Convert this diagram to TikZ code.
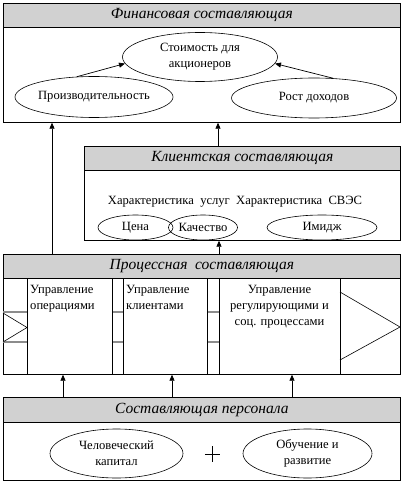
\documentclass[tikz,border=0pt]{standalone}
\usepackage{fontspec}
\setmainfont{Liberation Serif}
\usetikzlibrary{shapes.geometric,arrows.meta}
\begin{document}
\begin{tikzpicture}[x=1pt,y=-1pt,
  every node/.style={font=\fontsize{12.6}{16}\selectfont},
  frame/.style={draw,line width=0.7pt,anchor=north west,inner sep=0pt},
  hdr/.style={draw,line width=0.7pt,fill=black!18,anchor=north west,inner sep=0pt,font=\fontsize{15.5}{16}\selectfont\itshape},
  ell/.style={draw,line width=0.6pt,ellipse,inner sep=0pt,align=center},
  arr/.style={line width=0.7pt,-{Triangle[length=6pt,width=5pt]}},
  gline/.style={draw=black!45,line width=1.6pt},
  thin/.style={line width=0.6pt}]
\useasboundingbox (0,0) rectangle (402,486);
% ---------- Financial
\node[frame,minimum width=397pt,minimum height=119pt] (fin) at (3,3) {};
\node[hdr,minimum width=397pt,minimum height=24pt] (finh) at (3,3) {Финансовая составляющая};
\node[ell,minimum width=155pt,minimum height=49pt] (val) at (200,57) {Стоимость для\\акционеров};
\node[ell,minimum width=158pt,minimum height=41pt] (prod) at (94,97) {Производительность};
\node[ell,minimum width=165pt,minimum height=40pt] (grow) at (314,98) {Рост доходов};
\draw[arr] (prod.130) -- (val.185);
\draw[arr] (grow.46) -- (val.-5);
% ---------- Client
\node[frame,minimum width=316pt,minimum height=94pt] (cli) at (84,146) {};
\node[hdr,minimum width=316pt,minimum height=24pt] (clih) at (84,146) {Клиентская составляющая};
\node (chars) at (235,202) {Характеристика\ \ услуг\ \ Характеристика\ \ СВЭС};
\node[ell,minimum width=75pt,minimum height=25pt] (price) at (135.5,227.5) {Цена};
\node[ell,minimum width=66pt,minimum height=25pt] (qual) at (203,227.5) {Качество};
\node[ell,minimum width=110pt,minimum height=25pt] (image) at (322,227.5) {Имидж};
% ---------- Process
\node[frame,minimum width=397pt,minimum height=120pt] (proc) at (3,254) {};
\node[hdr,minimum width=397pt,minimum height=24pt] (proch) at (3,254) {Процессная\ \ составляющая};
\draw[gline] (3,312) -- (27,312) (3,342) -- (27,342)
  (112,312) -- (123,312) (112,342) -- (123,342)
  (207,312) -- (219,312) (207,342) -- (219,342);
\draw[thin] (3,313) -- (27,327.5) -- (3,342);
\draw[thin] (340,292) -- (400,327) -- (340,360);
\node[frame,minimum width=85pt,minimum height=96pt] (op) at (27,278) {};
\node[frame,minimum width=84pt,minimum height=96pt] (cl) at (123,278) {};
\node[frame,minimum width=121pt,minimum height=96pt] (reg) at (219,278) {};
\node[anchor=north west,align=left,inner sep=0pt] (opt) at (30,285) {Управление\\операциями};
\node[anchor=north west,align=left,inner sep=0pt] (clt) at (126,285) {Управление\\клиентами};
\node[anchor=north,align=center,inner sep=0pt] (regt) at (279.5,285) {Управление\\регулирующими и\\соц. процессами};
% ---------- Personnel
\node[frame,minimum width=397pt,minimum height=83pt] (pers) at (3,397) {};
\node[hdr,minimum width=397pt,minimum height=25pt] (persh) at (3,397) {Составляющая персонала};
\node[ell,minimum width=133pt,minimum height=49pt] (hum) at (116.5,453.5) {Человеческий\\капитал};
\node[ell,minimum width=129pt,minimum height=49pt] (edu) at (307.5,453.5) {Обучение и\\развитие};
\node[inner sep=0pt,minimum size=15pt] (plus) at (212.5,454) {};
\draw[line width=0.6pt] (plus.west) -- (plus.east) (plus.north) -- (plus.south);
% ---------- Connectors
\draw[arr] (proch.north -| 52,0) -- (fin.south -| 52,0);
\draw[arr] (clih.north -| 218,0) -- (fin.south -| 218,0);
\draw[arr] (proch.north -| 219,0) -- (cli.south -| 219,0);
\draw[arr] (persh.north -| 63,0) -- (op.south -| 63,0);
\draw[arr] (persh.north -| 172,0) -- (cl.south -| 172,0);
\draw[arr] (persh.north -| 292,0) -- (reg.south -| 292,0);
\end{tikzpicture}
\end{document}
